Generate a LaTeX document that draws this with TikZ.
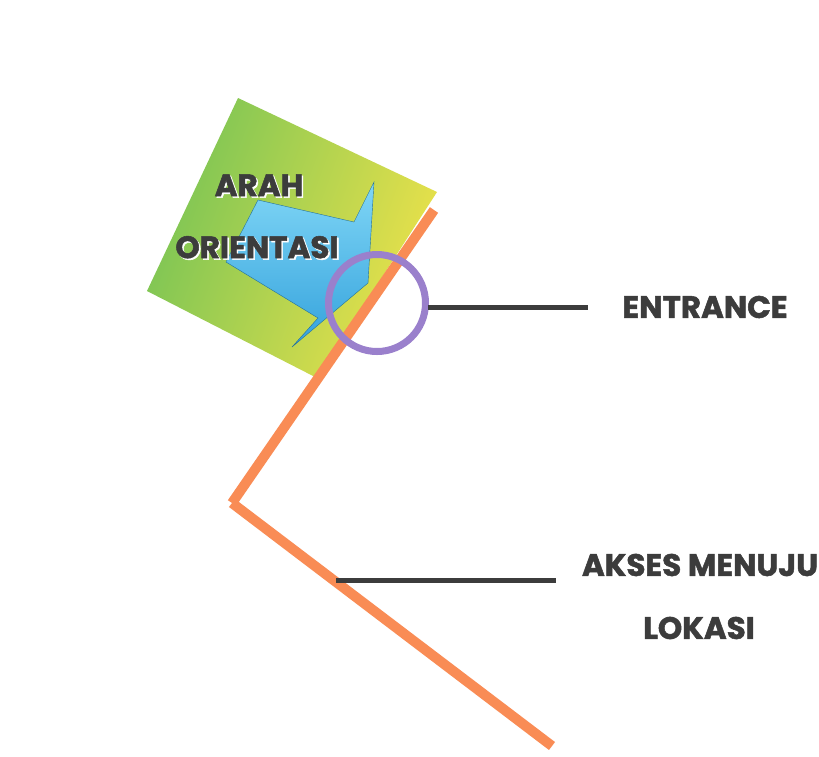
\documentclass[tikz,border=0pt]{standalone}
\usepackage{fontspec}
\setmainfont{Poppins}
\newfontfamily\heavyfont{Poppins}[BoldFeatures={FakeBold=1.6}]
\newcommand{\outlined}[1]{\rlap{\kern1.6pt\raisebox{-1.6pt}{\color{white}#1}}#1}
\begin{document}
\begin{tikzpicture}[x=1pt,y=-1pt,
  road/.style={draw=roadorange,line width=10pt},
  leader/.style={draw=inkgray,line width=5pt},
  label/.style={font=\heavyfont\bfseries\fontsize{31}{33}\selectfont,text=inkgray,inner sep=0pt}]
\definecolor{roadorange}{HTML}{F98C55}
\definecolor{inkgray}{HTML}{3C3C3C}
\definecolor{ringpurple}{HTML}{9A80CC}
\definecolor{padgreen}{HTML}{78C455}
\definecolor{padyellow}{HTML}{EDE24A}
\definecolor{arrowlight}{HTML}{80D6F6}
\definecolor{arrowdark}{HTML}{34A2DC}
\useasboundingbox (0,0) rectangle (819,756);
\fill[white] (0,0) rectangle (819,756);

% tilted orientation pad
\shade[left color=padgreen,right color=padyellow,shading angle=70]
  (238,98) -- (437,192) -- (317,378) -- (147,291) -- cycle;

% access road
\coordinate (rtop) at (434,210);
\coordinate (rcorner) at (232,503);
\coordinate (rend) at (552,746);
\draw[road] (rtop) -- (rcorner);
\draw[road] (rcorner) -- (rend);

% orientation arrow
\shade[top color=arrowlight,bottom color=arrowdark,draw=arrowdark!70!black,line width=0.4pt]
  (258,200) -- (354,222) -- (374,182) -- (368,283) -- (292,347) -- (318,318) -- (226,262) -- cycle;

% entrance ring
\node[circle,draw=ringpurple,line width=7pt,minimum size=97pt,inner sep=0pt] (ring) at (377,303) {};

% leaders
\coordinate (entA) at (428,307);
\coordinate (entB) at (588,307);
\draw[leader] (entA) -- (entB);
\coordinate (accA) at (336,580);
\coordinate (accB) at (556,580);
\draw[leader] (accA) -- (accB);

% labels
\node[label] (arah) at (259,186) {\outlined{ARAH}};
\node[label] (orient) at (257,248) {\outlined{ORIENTASI}};
\node[label] (entrance) at (705,307) {ENTRANCE};
\node[label] (akses) at (700,565) {AKSES MENUJU};
\node[label] (lokasi) at (699,628) {LOKASI};
\end{tikzpicture}
\end{document}
